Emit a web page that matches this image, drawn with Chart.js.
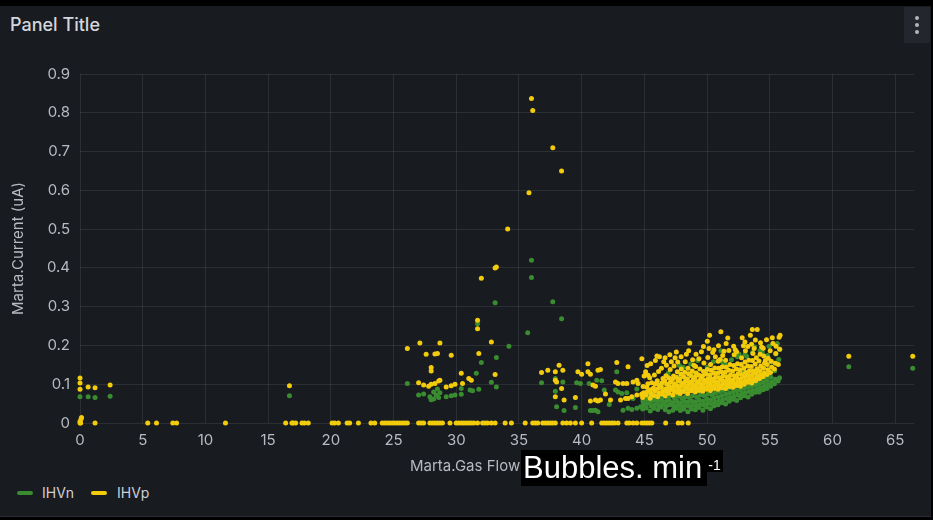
<!DOCTYPE html>
<html>
<head>
<meta charset="utf-8">
<script src="https://cdn.jsdelivr.net/npm/chart.js@4/dist/chart.umd.min.js"></script>
<style>
  html, body { margin: 0; padding: 0; width: 933px; height: 520px; overflow: hidden; background: #000; font-family: Inter, "Noto Sans", sans-serif; }
  #panel { position: absolute; left: 0; top: 6px; width: 931px; height: 510px; background: #181b1f; border-bottom: 1px solid #2a2d33; }
  #title { position: absolute; left: 10px; top: 13px; font-size: 18px; font-weight: 500; line-height: 24px; color: #d5d6dd; }
  #menu { position: absolute; left: 904px; top: 7px; width: 26px; height: 36px; background: #23262c; }
  #menu i { position: absolute; left: 11px; width: 4px; height: 4px; border-radius: 50%; background: #b3b5bd; }
  #wrap { position: absolute; left: 0; top: 55px; width: 925px; height: 425px; }
  #xtitle { position: absolute; left: 410px; top: 456px; font-size: 15px; line-height: 19px; color: #b9bac2; white-space: nowrap; }
  #unit { position: absolute; left: 521px; top: 450px; width: 186px; height: 36px; background: #000; color: #fff;
          font-family: "Liberation Sans", Arial, sans-serif; font-size: 31px; line-height: 36px; white-space: nowrap; }
  #unit span { padding-left: 2px; }
  #unitSup { position: absolute; left: 706px; top: 450px; width: 17px; height: 22px; background: #000; color: #fff;
             font-family: "Liberation Sans", Arial, sans-serif; font-size: 14px; line-height: 30px; text-align: center; }
  .sw { position: absolute; top: 491px; width: 16px; height: 4px; border-radius: 2px; }
  .lt { position: absolute; top: 484px; font-size: 14px; line-height: 18px; color: #cfd0d8; }
</style>
</head>
<body>
<div id="panel"></div>
<div id="title">Panel Title</div>
<div id="menu"><i style="top:9px"></i><i style="top:16px"></i><i style="top:23px"></i></div>
<div id="wrap"><canvas id="chart" width="925" height="425"></canvas></div>
<div id="xtitle">Marta.Gas Flow</div>
<div id="unit"><span>Bubbles. min</span></div>
<div id="unitSup">-1</div>
<div class="sw" id="swN" style="left:17px"></div><div class="lt" id="ltN" style="left:42px"></div>
<div class="sw" id="swP" style="left:91px"></div><div class="lt" id="ltP" style="left:117px"></div>
<script>
// Series names and colours
const seriesNames = ['IHVn', 'IHVp'];
const seriesColors = ['#3a8c30', '#f2cc0c'];

// Axis tick values
const flowTicks = [0, 5, 10, 15, 20, 25, 30, 35, 40, 45, 50, 55, 60, 65];
const currentTicks = [0, 0.1, 0.2, 0.3, 0.4, 0.5, 0.6, 0.7, 0.8, 0.9];

// Gas flow readings where IHVp current was zero
const ihvpZeroFlow = [0, 0.05, 1.2, 5.4, 6.1, 7.4, 7.7, 11.6, 16.4, 16.9, 17.0, 17.2, 17.7, 17.9, 18.2,
  20.1, 20.3, 20.6, 21.3, 21.5, 22.2, 23.2, 23.5, 24.1, 24.3, 24.5, 24.7, 24.9, 25.1, 25.3, 25.5, 25.7,
  25.9, 26.1, 27.0, 27.2, 27.4, 27.9, 28.1, 28.3, 28.5, 28.7, 28.9, 29.5, 30.0, 30.2, 30.4, 30.6, 30.8,
  31.0, 31.2, 31.4, 31.7, 32.1, 32.3, 32.5, 32.8, 33.1, 33.9, 34.4, 35.5, 36.1, 36.3, 36.5, 36.9, 37.1,
  37.3, 37.5, 37.7, 37.9, 38.5, 38.8, 39.1, 39.5, 40.0, 40.8, 41.6, 41.8, 42.0, 42.2, 42.4, 42.6, 42.9,
  43.6, 43.8, 44.1, 44.4, 44.8, 45.0, 45.2, 45.4, 45.6, 46.7, 47.7, 48.0, 48.5];

// IHVp [gas flow, current] readings, low flow and peak region
const ihvpSparse = [
  [0, 0.004], [0.08, 0.010], [0.12, 0.014], [0, 0.116], [0, 0.103], [0, 0.087], [0.65, 0.093], [1.2, 0.091], [2.4, 0.098],
  [16.7, 0.096],
  [26.1, 0.192], [27.1, 0.206], [28.7, 0.206], [27.6, 0.177], [28.3, 0.178], [28.5, 0.179], [29.6, 0.175],
  [28.0, 0.143], [28.0, 0.134], [27.0, 0.104], [27.4, 0.098], [27.8, 0.095], [28.0, 0.100], [28.3, 0.102],
  [28.6, 0.108], [28.7, 0.110], [29.2, 0.093], [29.6, 0.096], [29.9, 0.100], [30.4, 0.128], [30.5, 0.102],
  [31.0, 0.115], [31.2, 0.110], [31.7, 0.265], [31.7, 0.243], [32.8, 0.209], [31.8, 0.179], [33.1, 0.125],
  [36.0, 0.837], [36.1, 0.806], [37.7, 0.710], [38.4, 0.650], [35.8, 0.594], [34.1, 0.500], [33.1, 0.400],
  [33.2, 0.402], [32.0, 0.373],
  [36.8, 0.130], [37.3, 0.136], [37.9, 0.132], [38.2, 0.149], [38.5, 0.136], [37.9, 0.110], [38.0, 0.106],
  [38.4, 0.089], [37.9, 0.068], [38.6, 0.059], [39.5, 0.066], [39.7, 0.132], [40.0, 0.126], [40.5, 0.153],
  [40.5, 0.132], [40.7, 0.126], [41.3, 0.136], [40.7, 0.057], [41.1, 0.059], [41.3, 0.057], [40.9, 0.098],
  [41.1, 0.095], [41.5, 0.138], [41.5, 0.059], [41.9, 0.075], [42.3, 0.059], [42.8, 0.156], [42.7, 0.106],
  [42.9, 0.102], [43.3, 0.102], [43.6, 0.102], [43.1, 0.059], [43.5, 0.063], [43.7, 0.063], [44.0, 0.068],
  [44.4, 0.072], [44.8, 0.075], [43.7, 0.145], [44.1, 0.106], [44.4, 0.110], [44.5, 0.102], [44.8, 0.166],
  [45.1, 0.132], [45.3, 0.123], [45.5, 0.153], [46.0, 0.173],
  [61.3, 0.172], [66.4, 0.172]
];

// IHVp [gas flow, current] readings, main operating cluster
const ihvpCluster = [
  [44.86, 0.066], [44.95, 0.078], [44.90, 0.094], [44.98, 0.121],
  [45.14, 0.072], [45.25, 0.081], [45.19, 0.093], [45.28, 0.101], [45.12, 0.126], [45.22, 0.148],
  [45.46, 0.064], [45.55, 0.075], [45.50, 0.086], [45.58, 0.104], [45.43, 0.117],
  [45.77, 0.071], [45.84, 0.083], [45.73, 0.090], [45.86, 0.101], [45.80, 0.124], [45.88, 0.161],
  [46.06, 0.068], [46.15, 0.077], [46.10, 0.089], [46.18, 0.098], [46.03, 0.109], [46.13, 0.133], [46.20, 0.171],
  [46.37, 0.075], [46.45, 0.082], [46.34, 0.093], [46.42, 0.104], [46.48, 0.115], [46.36, 0.141],
  [46.66, 0.070], [46.74, 0.081], [46.70, 0.088], [46.78, 0.100], [46.63, 0.109], [46.72, 0.122], [46.76, 0.149], [46.65, 0.168],
  [46.96, 0.077], [47.05, 0.086], [46.99, 0.094], [47.08, 0.106], [46.94, 0.117], [47.06, 0.138], [47.03, 0.176],
  [47.27, 0.072], [47.35, 0.083], [47.30, 0.092], [47.38, 0.101], [47.24, 0.113], [47.33, 0.121], [47.37, 0.147],
  [47.57, 0.079], [47.65, 0.088], [47.60, 0.097], [47.68, 0.109], [47.54, 0.118], [47.63, 0.132], [47.66, 0.157], [47.55, 0.183],
  [47.86, 0.076], [47.94, 0.083], [47.90, 0.094], [47.97, 0.103], [47.83, 0.114], [47.92, 0.126], [47.95, 0.139], [47.93, 0.171],
  [48.17, 0.081], [48.25, 0.089], [48.20, 0.099], [48.28, 0.108], [48.14, 0.119], [48.23, 0.131], [48.26, 0.158],
  [48.46, 0.076], [48.55, 0.087], [48.50, 0.096], [48.58, 0.105], [48.43, 0.114], [48.52, 0.127], [48.48, 0.141], [48.53, 0.186],
  [48.76, 0.083], [48.84, 0.091], [48.79, 0.101], [48.87, 0.111], [48.73, 0.122], [48.82, 0.134], [48.85, 0.163], [48.62, 0.206],
  [49.07, 0.080], [49.15, 0.089], [49.10, 0.098], [49.18, 0.107], [49.04, 0.118], [49.13, 0.129], [49.09, 0.146], [49.12, 0.177],
  [49.37, 0.084], [49.45, 0.093], [49.40, 0.103], [49.48, 0.113], [49.34, 0.124], [49.43, 0.139], [49.35, 0.166],
  [49.66, 0.082], [49.74, 0.090], [49.70, 0.100], [49.77, 0.110], [49.63, 0.121], [49.72, 0.133], [49.75, 0.155], [49.71, 0.197],
  [49.96, 0.087], [50.05, 0.095], [50.00, 0.105], [50.08, 0.114], [49.94, 0.126], [50.03, 0.138], [50.06, 0.169], [50.02, 0.211],
  [50.27, 0.084], [50.35, 0.093], [50.30, 0.103], [50.38, 0.113], [50.24, 0.124], [50.33, 0.136], [50.28, 0.151], [50.20, 0.226],
  [50.56, 0.089], [50.65, 0.098], [50.60, 0.108], [50.68, 0.118], [50.53, 0.129], [50.62, 0.142], [50.66, 0.171], [50.55, 0.189],
  [50.87, 0.087], [50.95, 0.096], [50.90, 0.106], [50.98, 0.117], [50.84, 0.128], [50.93, 0.141], [50.88, 0.159], [50.91, 0.199],
  [51.16, 0.091], [51.24, 0.100], [51.20, 0.110], [51.27, 0.121], [51.13, 0.132], [51.22, 0.145], [51.25, 0.174], [51.10, 0.235],
  [51.47, 0.089], [51.55, 0.098], [51.50, 0.108], [51.58, 0.119], [51.44, 0.131], [51.53, 0.144], [51.48, 0.162], [51.52, 0.205],
  [51.76, 0.094], [51.84, 0.103], [51.79, 0.113], [51.87, 0.124], [51.73, 0.136], [51.82, 0.151], [51.74, 0.187],
  [52.07, 0.092], [52.15, 0.101], [52.10, 0.111], [52.18, 0.122], [52.04, 0.134], [52.13, 0.148], [52.16, 0.176], [52.12, 0.198],
  [52.37, 0.097], [52.45, 0.106], [52.40, 0.116], [52.48, 0.127], [52.34, 0.139], [52.43, 0.153], [52.35, 0.184],
  [52.66, 0.095], [52.74, 0.104], [52.70, 0.114], [52.77, 0.125], [52.63, 0.137], [52.72, 0.151], [52.75, 0.168], [52.80, 0.220],
  [52.96, 0.100], [53.05, 0.109], [53.00, 0.119], [53.08, 0.130], [52.94, 0.142], [53.03, 0.157], [53.06, 0.186], [53.02, 0.209],
  [53.27, 0.105], [53.35, 0.114], [53.30, 0.124], [53.38, 0.135], [53.24, 0.147], [53.33, 0.162], [53.25, 0.197],
  [53.56, 0.103], [53.65, 0.112], [53.60, 0.123], [53.68, 0.134], [53.53, 0.146], [53.62, 0.161], [53.66, 0.179], [53.55, 0.203], [53.61, 0.241],
  [53.87, 0.109], [53.95, 0.118], [53.90, 0.129], [53.98, 0.140], [53.84, 0.152], [53.93, 0.168], [53.85, 0.214], [54.00, 0.241],
  [54.17, 0.114], [54.25, 0.124], [54.20, 0.135], [54.28, 0.147], [54.14, 0.160], [54.23, 0.177], [54.26, 0.207],
  [54.46, 0.119], [54.55, 0.129], [54.50, 0.141], [54.58, 0.154], [54.52, 0.173], [54.48, 0.193],
  [54.77, 0.125], [54.85, 0.137], [54.79, 0.151], [54.87, 0.167], [54.74, 0.215],
  [55.06, 0.130], [55.15, 0.144], [55.10, 0.159], [55.03, 0.186], [55.20, 0.220],
  [55.37, 0.139], [55.45, 0.154], [55.48, 0.179], [55.50, 0.198],
  [55.68, 0.151], [55.79, 0.190], [55.82, 0.226], [55.74, 0.221],
  [46.55, 0.158], [47.45, 0.168], [48.35, 0.177], [48.95, 0.149], [49.55, 0.184], [50.45, 0.182],
  [51.05, 0.164], [51.65, 0.219], [52.25, 0.189], [52.90, 0.199], [53.45, 0.226], [54.35, 0.196],
  [55.25, 0.205], [47.15, 0.158], [50.15, 0.192], [51.35, 0.185], [53.75, 0.192], [54.65, 0.161]
];

// IHVn [gas flow, current] readings, low flow and peak region
const ihvnSparse = [
  [0, 0.068], [0.65, 0.068], [1.2, 0.066], [2.4, 0.069], [16.7, 0.070],
  [26.1, 0.102], [27.0, 0.072], [27.4, 0.075], [27.9, 0.068], [28.0, 0.060], [28.2, 0.080], [28.2, 0.062],
  [28.4, 0.072], [28.5, 0.088], [28.6, 0.066], [28.7, 0.078], [29.2, 0.068], [29.6, 0.070], [29.9, 0.072],
  [30.4, 0.089], [30.4, 0.074], [31.1, 0.085], [31.3, 0.083], [31.8, 0.087], [31.6, 0.128], [32.0, 0.156],
  [32.8, 0.105], [33.2, 0.169], [33.2, 0.093], [34.2, 0.198], [35.7, 0.233],
  [36.0, 0.420], [36.0, 0.375], [33.1, 0.310], [37.7, 0.313], [38.4, 0.269], [31.7, 0.256],
  [36.8, 0.104], [37.9, 0.082], [38.0, 0.042], [38.6, 0.032], [39.5, 0.040], [38.5, 0.106], [37.9, 0.115],
  [39.6, 0.104], [39.9, 0.102], [40.6, 0.102], [41.2, 0.110], [41.6, 0.109], [40.7, 0.032], [40.9, 0.032],
  [41.1, 0.033], [41.3, 0.029], [41.8, 0.085], [42.2, 0.048], [42.7, 0.085], [42.9, 0.080], [43.2, 0.076],
  [42.8, 0.132], [43.3, 0.033], [43.7, 0.038], [44.0, 0.035], [44.4, 0.038], [44.7, 0.042], [44.1, 0.063],
  [44.7, 0.072], [43.6, 0.078], [44.4, 0.088], [44.9, 0.055],
  [61.3, 0.145], [66.4, 0.141]
];

// IHVn [gas flow, current] readings, main operating cluster
const ihvnCluster = [
  [44.87, 0.036], [44.94, 0.047], [44.90, 0.058],
  [45.16, 0.039], [45.24, 0.050], [45.19, 0.061], [45.27, 0.074],
  [45.47, 0.031], [45.55, 0.044], [45.50, 0.055], [45.58, 0.067],
  [45.76, 0.038], [45.84, 0.048], [45.79, 0.059], [45.87, 0.071], [45.82, 0.086],
  [46.07, 0.035], [46.15, 0.045], [46.10, 0.056], [46.18, 0.068],
  [46.36, 0.041], [46.44, 0.049], [46.39, 0.060], [46.47, 0.072], [46.42, 0.092],
  [46.67, 0.034], [46.75, 0.044], [46.70, 0.055], [46.78, 0.066],
  [46.96, 0.029], [47.04, 0.047], [46.99, 0.058], [47.07, 0.070], [47.02, 0.101],
  [47.27, 0.033], [47.35, 0.043], [47.30, 0.053], [47.38, 0.065],
  [47.56, 0.038], [47.64, 0.046], [47.59, 0.057], [47.67, 0.069], [47.62, 0.118],
  [47.87, 0.032], [47.95, 0.042], [47.90, 0.052], [47.98, 0.064],
  [48.16, 0.036], [48.24, 0.045], [48.19, 0.056], [48.27, 0.068], [48.22, 0.084],
  [48.47, 0.029], [48.55, 0.043], [48.50, 0.054], [48.58, 0.066],
  [48.76, 0.036], [48.84, 0.046], [48.79, 0.057], [48.87, 0.070], [48.82, 0.131],
  [49.07, 0.034], [49.15, 0.044], [49.10, 0.055], [49.18, 0.067],
  [49.36, 0.040], [49.44, 0.048], [49.39, 0.059], [49.47, 0.072], [49.42, 0.088],
  [49.67, 0.033], [49.75, 0.046], [49.70, 0.057], [49.78, 0.070],
  [49.96, 0.041], [50.04, 0.051], [49.99, 0.062], [50.07, 0.075], [50.02, 0.144],
  [50.27, 0.037], [50.35, 0.049], [50.30, 0.060], [50.38, 0.073],
  [50.56, 0.044], [50.64, 0.054], [50.59, 0.065], [50.67, 0.078], [50.62, 0.093],
  [50.87, 0.047], [50.95, 0.057], [50.90, 0.068], [50.98, 0.081],
  [51.16, 0.052], [51.24, 0.060], [51.19, 0.071], [51.27, 0.084], [51.22, 0.158],
  [51.47, 0.049], [51.55, 0.063], [51.50, 0.074], [51.58, 0.087],
  [51.76, 0.056], [51.84, 0.066], [51.79, 0.077], [51.87, 0.090], [51.82, 0.104],
  [52.07, 0.061], [52.15, 0.069], [52.10, 0.080], [52.18, 0.093],
  [52.36, 0.058], [52.44, 0.072], [52.39, 0.083], [52.47, 0.096], [52.42, 0.171],
  [52.67, 0.065], [52.75, 0.075], [52.70, 0.086], [52.78, 0.099],
  [52.96, 0.070], [53.04, 0.078], [52.99, 0.089], [53.07, 0.102], [53.02, 0.177],
  [53.27, 0.067], [53.35, 0.081], [53.30, 0.092], [53.38, 0.105],
  [53.56, 0.074], [53.64, 0.084], [53.59, 0.095], [53.67, 0.108], [53.62, 0.182],
  [53.87, 0.079], [53.95, 0.087], [53.90, 0.098], [53.98, 0.111],
  [54.16, 0.080], [54.24, 0.090], [54.19, 0.101], [54.27, 0.114], [54.22, 0.186],
  [54.47, 0.086], [54.55, 0.094], [54.50, 0.105], [54.58, 0.118],
  [54.76, 0.089], [54.84, 0.099], [54.79, 0.110], [54.87, 0.122], [54.82, 0.174],
  [55.07, 0.095], [55.15, 0.106], [55.10, 0.118], [55.18, 0.157],
  [55.37, 0.101], [55.45, 0.113], [55.40, 0.135], [55.48, 0.178],
  [55.67, 0.108], [55.78, 0.117], [55.72, 0.164], [55.80, 0.190],
  [46.90, 0.128], [47.80, 0.148], [48.70, 0.152], [49.25, 0.161], [49.90, 0.134], [50.50, 0.158],
  [51.10, 0.186], [51.40, 0.152], [51.95, 0.163], [52.55, 0.178], [53.15, 0.172], [53.80, 0.196],
  [54.40, 0.183], [54.95, 0.198], [55.60, 0.205], [52.85, 0.133], [50.75, 0.128], [48.10, 0.144]
];

const toPoints = pairs => pairs.map(([x, y]) => ({ x, y }));
const ihvpData = ihvpZeroFlow.map(x => ({ x, y: 0 })).concat(toPoints(ihvpSparse), toPoints(ihvpCluster));
const ihvnData = toPoints(ihvnSparse).concat(toPoints(ihvnCluster));

// HTML legend
document.getElementById('swN').style.background = seriesColors[0];
document.getElementById('swP').style.background = seriesColors[1];
document.getElementById('ltN').textContent = seriesNames[0];
document.getElementById('ltP').textContent = seriesNames[1];

const gridColor = 'rgba(204, 204, 220, 0.11)';
const tickColor = '#b9bac2';
const tickFont = { family: 'Inter', size: 15 };

new Chart(document.getElementById('chart'), {
  type: 'scatter',
  data: {
    datasets: [
      { label: seriesNames[0], data: ihvnData, backgroundColor: seriesColors[0], pointRadius: 2.5,
        pointBorderWidth: 0, order: 1, clip: false },
      { label: seriesNames[1], data: ihvpData, backgroundColor: seriesColors[1], pointRadius: 2.5,
        pointBorderWidth: 0, order: 0, clip: false }
    ]
  },
  options: {
    responsive: false,
    animation: false,
    layout: { padding: { top: 16, right: 11, left: 0, bottom: 0 } },
    plugins: { legend: { display: false }, tooltip: { enabled: false } },
    scales: {
      x: {
        type: 'linear', min: 0, max: 66.5,
        afterFit(scale) { scale.height = 57; },
        afterBuildTicks(scale) { scale.ticks = flowTicks.map(v => ({ value: v })); },
        grid: { color: gridColor, drawTicks: false },
        border: { display: false },
        ticks: { padding: 8, color: tickColor, font: tickFont, maxRotation: 0, autoSkip: false,
                 callback: v => String(v) }
      },
      y: {
        min: 0, max: 0.9,
        afterFit(scale) { scale.width = 80; },
        afterBuildTicks(scale) { scale.ticks = currentTicks.map(v => ({ value: v })); },
        grid: { color: gridColor, drawTicks: false },
        border: { display: false },
        ticks: { padding: 10, color: tickColor, font: tickFont,
                 callback: v => (v === 0 ? '0' : v.toFixed(1)) },
        title: { display: true, text: 'Marta.Current (uA)', color: tickColor, font: tickFont,
                 padding: { top: 9, bottom: 0 } }
      }
    }
  }
});
</script>
</body>
</html>
